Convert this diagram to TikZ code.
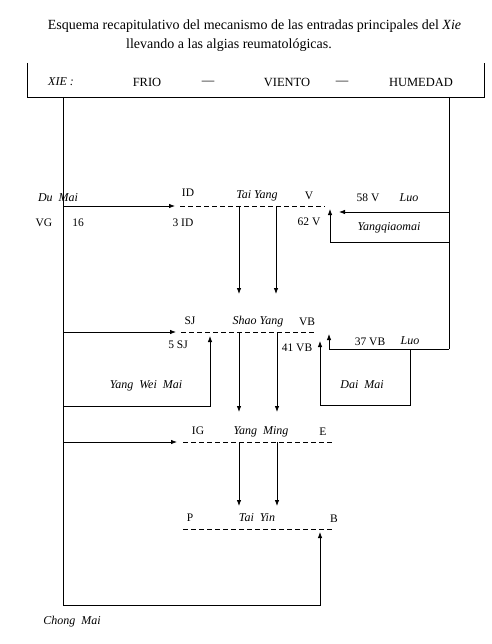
\documentclass[tikz,border=0pt]{standalone}
\usepackage{fontspec}
\setmainfont{Liberation Serif}
\usetikzlibrary{arrows.meta}
\begin{document}
\begin{tikzpicture}[x=1pt,y=-1pt,
  ln/.style={line width=0.8pt},
  arr/.style={ln,-{Latex[length=6pt,width=4.5pt]}},
  dsh/.style={line width=0.8pt,dash pattern=on 5pt off 3pt},
  lbl/.style={inner sep=0pt,font=\fontsize{11.5}{13}\selectfont},
  ilbl/.style={inner sep=0pt,font=\fontsize{12}{13}\selectfont\itshape},
  hdr/.style={inner sep=0pt,font=\fontsize{12.5}{14}\selectfont},
  ttl/.style={inner sep=0pt,font=\fontsize{14}{17}\selectfont},
]
\useasboundingbox (0,0) rectangle (491,644);

% title
\node[ttl] (t1) at (254.5,26) {Esquema recapitulativo del mecanismo de las entradas principales del \textit{Xie}};
\node[ttl] (t2) at (229,45) {llevando a las algias reumatológicas.};

% top box
\coordinate (bxa) at (27,63);
\coordinate (bxb) at (27,97);
\coordinate (bxc) at (484,97);
\coordinate (bxd) at (484,63);
\draw[ln] (bxa) -- (bxb) -- (bxc) -- (bxd);
\node[hdr,font=\fontsize{12}{14}\selectfont\itshape] (xie) at (61,82) {XIE :};
\node[hdr] (frio) at (147,82) {FRIO};
\node[hdr] (da) at (208,83) {---};
\node[hdr] (viento) at (287,82) {VIENTO};
\node[hdr] (db) at (342,83) {---};
\node[hdr] (hum) at (421,82) {HUMEDAD};

% trunks
\coordinate (lt) at (63,97);
\coordinate (rt) at (449,97);
\coordinate (rbot) at (449,349);
\coordinate (cm) at (320,605);
\coordinate (btip) at (320,532);
\draw[arr] (lt) |- (cm) -- (btip);
\draw[ln] (rt) -- (rbot);

% ---------- row 1: Tai Yang
\coordinate (r1s) at (63,206);
\coordinate (r1e) at (175,206);
\coordinate (d1a) at (180,206);
\coordinate (d1b) at (325,206);
\draw[arr] (r1s) -- (r1e);
\draw[dsh] (d1a) -- (d1b);
\coordinate (v1a) at (239,206);
\coordinate (v1ae) at (239,294);
\coordinate (v1b) at (276,206);
\coordinate (v1be) at (276,294);
\draw[arr] (v1a) -- (v1ae);
\draw[arr] (v1b) -- (v1be);
\coordinate (luo1s) at (449,212);
\coordinate (luo1e) at (339,212);
\draw[arr] (luo1s) -- (luo1e);
\coordinate (yq) at (449,242);
\coordinate (yqtip) at (330,209);
\draw[arr] (yq) -| (yqtip);

\node[ilbl] (dumai) at (58,198) {Du\ \ Mai};
\node[lbl] (vg) at (44,223) {VG};
\node[lbl] (n16) at (78,223) {16};
\node[lbl] (id) at (188,193) {ID};
\node[lbl] (id3) at (183,223) {3 ID};
\node[ilbl] (taiyang) at (257,196) {Tai Yang};
\node[lbl] (v) at (309,196) {V};
\node[lbl] (v62) at (309,222) {62 V};
\node[lbl] (v58) at (368,198) {58 V};
\node[ilbl] (luo1) at (409,198) {Luo};
\node[ilbl] (yqm) at (389,228) {Yangqiaomai};

% ---------- row 2: Shao Yang
\coordinate (r2s) at (63,332);
\coordinate (r2e) at (176,332);
\coordinate (d2a) at (181,332);
\coordinate (d2b) at (315,332);
\draw[arr] (r2s) -- (r2e);
\draw[dsh] (d2a) -- (d2b);
\coordinate (ywm) at (63,406);
\coordinate (ywmtip) at (210,336);
\draw[arr] (ywm) -| (ywmtip);
\coordinate (v2a) at (239,332);
\coordinate (v2ae) at (239,412);
\coordinate (v2b) at (277,332);
\coordinate (v2be) at (277,412);
\draw[arr] (v2a) -- (v2ae);
\draw[arr] (v2b) -- (v2be);
\coordinate (luo2tip) at (329,334);
\draw[arr] (rbot) -| (luo2tip);
\coordinate (dm) at (410,349);
\coordinate (dmb) at (410,405);
\coordinate (dmtip) at (320,341);
\draw[arr] (dm) -- (dmb) -| (dmtip);

\node[lbl] (sj) at (190,321) {SJ};
\node[lbl] (sj5) at (178,345) {5 SJ};
\node[ilbl] (shaoyang) at (258,322) {Shao Yang};
\node[lbl] (vb) at (307,322) {VB};
\node[lbl] (vb41) at (297,348) {41 VB};
\node[lbl] (vb37) at (370,342) {37 VB};
\node[ilbl] (luo2) at (410,341) {Luo};
\node[ilbl] (yangwei) at (146,386) {Yang\ \ Wei\ \ Mai};
\node[ilbl] (daimai) at (362,385) {Dai\ \ Mai};

% ---------- row 3: Yang Ming
\coordinate (r3s) at (63,442);
\coordinate (r3e) at (177,442);
\coordinate (d3a) at (183,442);
\coordinate (d3b) at (332,442);
\draw[arr] (r3s) -- (r3e);
\draw[dsh] (d3a) -- (d3b);
\coordinate (v3a) at (239,442);
\coordinate (v3ae) at (239,506);
\coordinate (v3b) at (277,442);
\coordinate (v3be) at (277,506);
\draw[arr] (v3a) -- (v3ae);
\draw[arr] (v3b) -- (v3be);

\node[lbl] (ig) at (198,431) {IG};
\node[ilbl] (yangming) at (261,432) {Yang\ \ Ming};
\node[lbl] (e) at (323,432) {E};

% ---------- row 4: Tai Yin
\coordinate (d4a) at (183,529);
\coordinate (d4b) at (333,529);
\draw[dsh] (d4a) -- (d4b);
\node[lbl] (p) at (190,518) {P};
\node[ilbl] (taiyin) at (257,518) {Tai\ \ Yin};
\node[lbl] (b) at (334,519) {B};

\node[ilbl] (chong) at (72,622) {Chong\ \ Mai};
\end{tikzpicture}
\end{document}
